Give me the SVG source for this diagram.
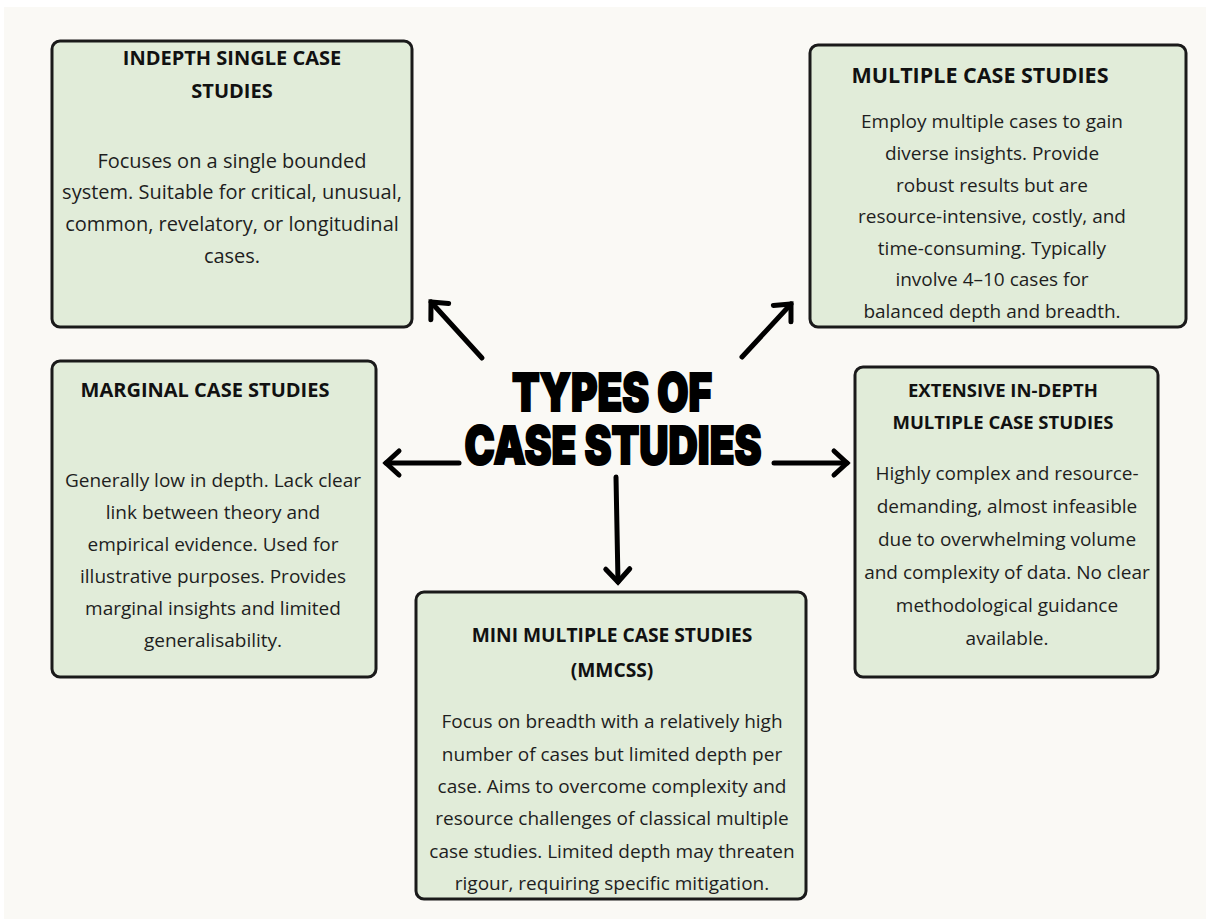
<svg xmlns="http://www.w3.org/2000/svg" width="1206" height="919" viewBox="0 0 1206 919">
<style>
.box{fill:#e1ecd9;stroke:#1a1a1a;stroke-width:3}
.hd{font-family:"Open Sans","Liberation Sans",sans-serif;font-weight:700;font-size:20px;fill:#111;text-anchor:middle}
.bd{font-family:"Open Sans","Liberation Sans",sans-serif;font-size:19px;fill:#1e1e1e;text-anchor:middle}
.ttl{font-family:Inter,"Liberation Sans",sans-serif;font-weight:900;font-size:52px;fill:#000;stroke:#000;stroke-width:2;text-anchor:middle}
.con{stroke:#000;stroke-width:5;fill:none;stroke-linecap:round}
</style>
<defs>
<marker id="ah" markerUnits="userSpaceOnUse" markerWidth="40" markerHeight="40" viewBox="-20 -20 40 40" refX="0" refY="0" orient="auto">
<path d="M-13,-12 L0,0 L-13,12" fill="none" stroke="#000" stroke-width="5" stroke-linecap="round" stroke-linejoin="miter"/>
</marker>
</defs>
<rect x="0" y="0" width="1206" height="919" fill="#ffffff"/>
<rect x="4" y="7" width="1202" height="912" fill="#faf9f5"/>

<g id="title">
<text class="ttl" x="612" y="411" textLength="200" lengthAdjust="spacingAndGlyphs">TYPES OF</text>
<text class="ttl" x="613" y="464" textLength="297" lengthAdjust="spacingAndGlyphs">CASE STUDIES</text>
</g>

<g id="connectors">
<line class="con" x1="482" y1="358" x2="431" y2="302" marker-end="url(#ah)"/>
<line class="con" x1="742" y1="357" x2="791" y2="304" marker-end="url(#ah)"/>
<line class="con" x1="459" y1="463" x2="386" y2="463" marker-end="url(#ah)"/>
<line class="con" x1="774" y1="463" x2="847" y2="463" marker-end="url(#ah)"/>
<line class="con" x1="616" y1="477" x2="618" y2="582" marker-end="url(#ah)"/>
</g>

<g id="indepth-single">
<rect class="box" x="52" y="41" width="360" height="286" rx="8"/>
<text class="hd" x="232" y="65">INDEPTH SINGLE CASE</text>
<text class="hd" x="232" y="98">STUDIES</text>
<text class="bd" x="232" y="168" style="font-size:20px">Focuses on a single bounded</text>
<text class="bd" x="232" y="199" style="font-size:20px">system. Suitable for critical, unusual,</text>
<text class="bd" x="232" y="231" style="font-size:20px">common, revelatory, or longitudinal</text>
<text class="bd" x="232" y="263" style="font-size:20px">cases.</text>
</g>

<g id="multiple">
<rect class="box" x="810" y="45" width="376" height="282" rx="8"/>
<text class="hd" x="980" y="83" style="font-size:21.5px">MULTIPLE CASE STUDIES</text>
<text class="bd" x="992" y="128">Employ multiple cases to gain</text>
<text class="bd" x="992" y="160">diverse insights. Provide</text>
<text class="bd" x="992" y="192">robust results but are</text>
<text class="bd" x="992" y="223">resource-intensive, costly, and</text>
<text class="bd" x="992" y="255">time-consuming. Typically</text>
<text class="bd" x="992" y="286">involve 4–10 cases for</text>
<text class="bd" x="992" y="318">balanced depth and breadth.</text>
</g>

<g id="marginal">
<rect class="box" x="52" y="361" width="324" height="316" rx="8"/>
<text class="hd" x="205" y="397">MARGINAL CASE STUDIES</text>
<text class="bd" x="213" y="487">Generally low in depth. Lack clear</text>
<text class="bd" x="213" y="519">link between theory and</text>
<text class="bd" x="213" y="551">empirical evidence. Used for</text>
<text class="bd" x="213" y="583">illustrative purposes. Provides</text>
<text class="bd" x="213" y="615">marginal insights and limited</text>
<text class="bd" x="213" y="647">generalisability.</text>
</g>

<g id="extensive">
<rect class="box" x="855" y="367" width="303" height="310" rx="8"/>
<text class="hd" x="1003" y="397" style="font-size:18.5px">EXTENSIVE IN-DEPTH</text>
<text class="hd" x="1003" y="429" style="font-size:18.5px">MULTIPLE CASE STUDIES</text>
<text class="bd" x="1007" y="480">Highly complex and resource-</text>
<text class="bd" x="1007" y="513">demanding, almost infeasible</text>
<text class="bd" x="1007" y="546">due to overwhelming volume</text>
<text class="bd" x="1007" y="579">and complexity of data. No clear</text>
<text class="bd" x="1007" y="612">methodological guidance</text>
<text class="bd" x="1007" y="645">available.</text>
</g>

<g id="mini-multiple">
<rect class="box" x="416" y="592" width="390" height="307" rx="8"/>
<text class="hd" x="612" y="642" style="font-size:19.2px">MINI MULTIPLE CASE STUDIES</text>
<text class="hd" x="612" y="677" style="font-size:19.2px">(MMCSS)</text>
<text class="bd" x="612" y="728">Focus on breadth with a relatively high</text>
<text class="bd" x="612" y="761">number of cases but limited depth per</text>
<text class="bd" x="612" y="793">case. Aims to overcome complexity and</text>
<text class="bd" x="612" y="825">resource challenges of classical multiple</text>
<text class="bd" x="612" y="858">case studies. Limited depth may threaten</text>
<text class="bd" x="612" y="890">rigour, requiring specific mitigation.</text>
</g>
</svg>
